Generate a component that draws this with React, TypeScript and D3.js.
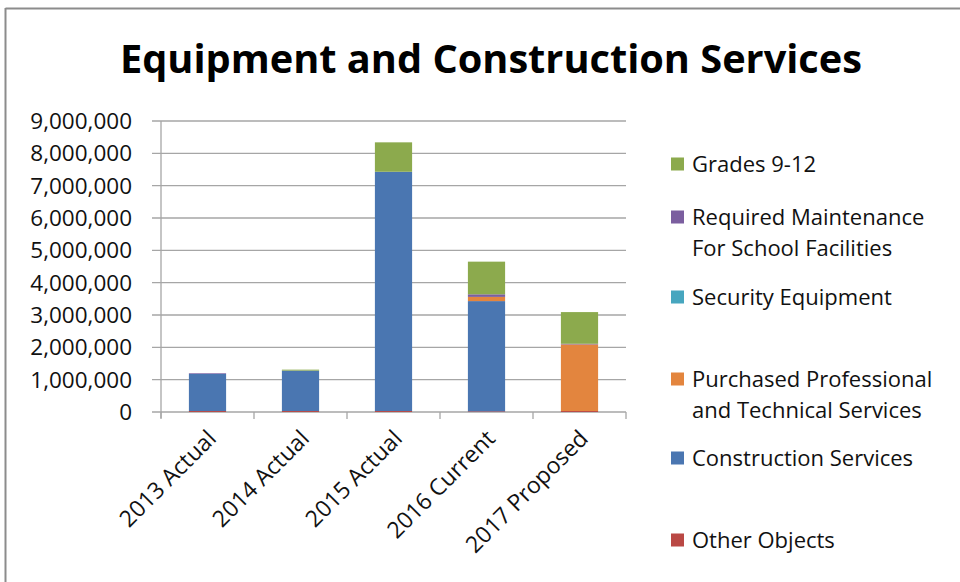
import React from 'react';
import * as d3 from 'd3';

// categories along the x axis
const years = ['2013 Actual', '2014 Actual', '2015 Actual', '2016 Current', '2017 Proposed'];

// series, bottom of the stack first
const otherObjects = [30000, 30000, 30000, 20000, 30000];
const constructionServices = [1150000, 1250000, 7400000, 3410000, 0];
const purchasedProfessional = [0, 0, 0, 130000, 2060000];
const securityEquipment = [0, 0, 0, 0, 0];
const requiredMaintenance = [20000, 0, 0, 80000, 20000];
const grades912 = [0, 30000, 910000, 1010000, 980000];

const yTicks = [0, 1000000, 2000000, 3000000, 4000000, 5000000, 6000000, 7000000, 8000000, 9000000];

const seriesKeys = ['Other Objects', 'Construction Services', 'Purchased Professional and Technical Services',
  'Security Equipment', 'Required Maintenance For School Facilities', 'Grades 9-12'];
const seriesValues = [otherObjects, constructionServices, purchasedProfessional, securityEquipment, requiredMaintenance, grades912];
const seriesColors = ['#BA4844', '#4A76B1', '#E3853E', '#47A6BF', '#7B5E9F', '#8CAA4D'];

// legend, top to bottom, with line breaks as in the picture
const legendItems = [
  { key: 'Grades 9-12', lines: ['Grades 9-12'] },
  { key: 'Required Maintenance For School Facilities', lines: ['Required Maintenance', 'For School Facilities'] },
  { key: 'Security Equipment', lines: ['Security Equipment'] },
  { key: 'Purchased Professional and Technical Services', lines: ['Purchased Professional', 'and Technical Services'] },
  { key: 'Construction Services', lines: ['Construction Services'] },
  { key: 'Other Objects', lines: ['Other Objects'] },
];
const legendY = [164, 217, 297, 379, 458, 540];

const FONT = '"Open Sans", "Noto Sans", sans-serif';

const App: React.FC = () => {
  const width = 960;
  const height = 582;

  const rows = years.map((y, i) => {
    const row: Record<string, number | string> = { year: y };
    seriesKeys.forEach((k, j) => { row[k] = seriesValues[j][i]; });
    return row;
  });
  const stacked = d3.stack<Record<string, number | string>>()
    .keys(seriesKeys)
    .value((d, k) => d[k] as number)(rows);

  const x = d3.scaleBand<string>().domain(years).range([161, 626]).padding(0);
  const y = d3.scaleLinear().domain([0, 9000000]).range([412, 121]);
  const barW = x.bandwidth() * 0.4;
  const color = d3.scaleOrdinal<string, string>().domain(seriesKeys).range(seriesColors);
  const fmt = d3.format(',');

  const boundaries = [...years.map(c => x(c) as number), 626];

  return (
    <svg width={width} height={height} style={{ position: 'absolute', left: 0, top: 0, background: '#fff' }}>
      {/* frame */}
      <line x1={5.5} x2={960} y1={8.5} y2={8.5} stroke="#8c8c8c" strokeWidth={2} />
      <line x1={5.5} x2={5.5} y1={8} y2={582} stroke="#8c8c8c" strokeWidth={2} />

      <text x={491} y={73} textAnchor="middle" fontFamily={FONT} fontWeight={700} fontSize={40}
        textLength={742} lengthAdjust="spacingAndGlyphs" fill="#000">
        Equipment and Construction Services
      </text>

      {/* grid + y ticks */}
      {yTicks.map(t => (
        <g key={t}>
          <line x1={152} x2={626} y1={y(t)} y2={y(t)} stroke="#a6a6a6" strokeWidth={1.3} />
          <text x={132} y={y(t)} dy="0.35em" textAnchor="end" fontFamily={FONT} fontSize={22.5} fill="#111">
            {fmt(t)}
          </text>
        </g>
      ))}
      <line x1={161} x2={161} y1={121} y2={418} stroke="#a6a6a6" strokeWidth={1.3} />
      {boundaries.map((b, i) => (
        <line key={i} x1={b} x2={b} y1={412} y2={419} stroke="#a6a6a6" strokeWidth={1.3} />
      ))}

      {/* bars */}
      {stacked.map(s => (
        <g key={s.key} fill={color(s.key)}>
          {s.map((d, i) => {
            const h = y(d[0]) - y(d[1]);
            if (h <= 0) return null;
            const cx = (x(years[i]) as number) + x.bandwidth() / 2;
            return <rect key={i} x={cx - barW / 2} y={y(d[1])} width={barW} height={h} />;
          })}
        </g>
      ))}

      {/* x labels */}
      {years.map(c => {
        const cx = (x(c) as number) + x.bandwidth() / 2;
        return (
          <text key={c} transform={`translate(${cx + 10},${440}) rotate(-45)`} textAnchor="end"
            fontFamily={FONT} fontSize={23} fill="#111">
            {c}
          </text>
        );
      })}

      {/* legend */}
      {legendItems.map((it, i) => {
        const ly = legendY[i];
        return (
          <g key={it.key}>
            <rect x={671} y={ly - 6.5} width={13} height={13} fill={color(it.key)} />
            {it.lines.map((ln, k) => (
              <text key={k} x={692} y={ly + k * 31} dy="0.35em" fontFamily={FONT}
                fontSize={22} fill="#111">
                {ln}
              </text>
            ))}
          </g>
        );
      })}
    </svg>
  );
};

export default App;
